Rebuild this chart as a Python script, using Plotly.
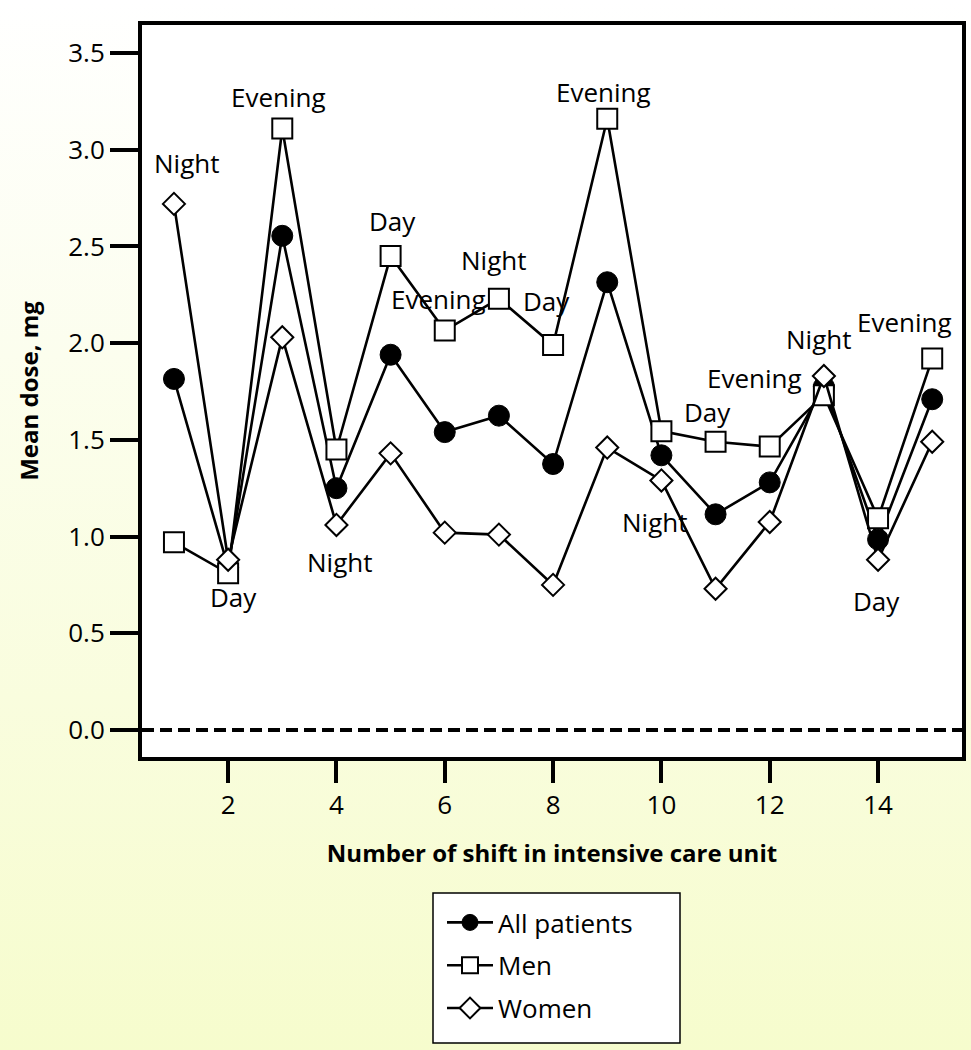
import base64
import plotly.graph_objects as go

# ---------------- data ----------------
shifts = list(range(1, 16))
all_patients = [1.815, 0.84, 2.555, 1.25, 1.94, 1.54, 1.625, 1.375, 2.315, 1.42, 1.115, 1.28, 1.775, 0.985, 1.71]
men = [0.97, 0.81, 3.11, 1.45, 2.45, 2.065, 2.23, 1.99, 3.16, 1.545, 1.49, 1.465, 1.73, 1.095, 1.92]
women = [2.72, 0.88, 2.03, 1.06, 1.43, 1.02, 1.01, 0.75, 1.46, 1.29, 0.73, 1.075, 1.83, 0.88, 1.49]

shift_labels = ["Night", "Evening", "Day", "Night", "Day", "Evening", "Night", "Day",
                "Evening", "Night", "Day", "Evening", "Night", "Evening", "Day"]
label_x = [1.24, 2.93, 2.10, 4.05, 5.04, 5.88, 6.90, 7.88, 8.94, 9.88, 10.85, 11.72, 12.90, 14.48, 13.97]
label_y = [2.93, 3.275, 0.686, 0.87, 2.63, 2.23, 2.43, 2.22, 3.30, 1.077, 1.645, 1.82, 2.02, 2.11, 0.669]

y_ticks = [0.0, 0.5, 1.0, 1.5, 2.0, 2.5, 3.0, 3.5]
x_ticks = [2, 4, 6, 8, 10, 12, 14]

# ---------------- layout geometry ----------------
W, H = 971, 1050
ML, MR, MT, MB = 142, 9, 25, 293
PW, PH = W - ML - MR, H - MT - MB


def px_to_paper_x(px):
    return (px - ML) / PW


def px_to_paper_y(py):
    return (MT + PH - py) / PH


FONT = "Open Sans, Noto Sans, DejaVu Sans, sans-serif"

fig = go.Figure()

fig.add_trace(go.Scatter(
    x=shifts, y=all_patients, mode="lines+markers", name="All patients",
    legendgroup="a",
    line=dict(color="black", width=2.6),
    marker=dict(symbol="circle", size=21, color="black", line=dict(color="black", width=1)),
))
fig.add_trace(go.Scatter(
    x=shifts, y=men, mode="lines+markers", name="Men",
    legendgroup="m",
    line=dict(color="black", width=2.6),
    marker=dict(symbol="square", size=20, color="white", line=dict(color="black", width=2)),
))
fig.add_trace(go.Scatter(
    x=shifts, y=women, mode="lines+markers", name="Women",
    legendgroup="w",
    line=dict(color="black", width=2.6),
    marker=dict(symbol="diamond", size=17, color="white", line=dict(color="black", width=2)),
))

for t, xx, yy in zip(shift_labels, label_x, label_y):
    fig.add_annotation(x=xx, y=yy, text=t, showarrow=False,
                       font=dict(family=FONT, size=26, color="black"),
                       xanchor="center", yanchor="middle")

# background gradient (page) via inline SVG image
svg = ('<svg xmlns="http://www.w3.org/2000/svg" width="100" height="100" viewBox="0 0 100 100" '
       'preserveAspectRatio="none"><defs><linearGradient id="g" x1="0" y1="0" x2="0" y2="1">'
       '<stop offset="0" stop-color="#ffffff"/><stop offset="1" stop-color="#f6fccd"/>'
       '</linearGradient></defs><rect width="100" height="100" fill="url(#g)"/></svg>')
src = "data:image/svg+xml;base64," + base64.b64encode(svg.encode()).decode()
fig.add_layout_image(dict(
    source=src, xref="paper", yref="paper",
    x=-ML / PW, y=1 + MT / PH, sizex=W / PW, sizey=H / PH,
    xanchor="left", yanchor="top", sizing="stretch", layer="below",
))

# white plot area
fig.add_shape(type="rect", xref="paper", yref="paper", x0=0, x1=1, y0=0, y1=1,
              fillcolor="white", line=dict(width=0), layer="below")
# dashed zero line
fig.add_shape(type="line", xref="paper", yref="y", x0=0, x1=1, y0=0, y1=0,
              line=dict(color="black", width=4, dash="12px,6px"), layer="below")
# legend box
fig.add_shape(type="rect", xref="paper", yref="paper",
              x0=px_to_paper_x(433), x1=px_to_paper_x(680),
              y0=px_to_paper_y(1043), y1=px_to_paper_y(893),
              fillcolor="white", line=dict(color="black", width=1.5), layer="below")

fig.update_layout(
    width=W, height=H, autosize=False,
    margin=dict(l=ML, r=MR, t=MT, b=MB),
    paper_bgcolor="#fbfde6",
    plot_bgcolor="rgba(0,0,0,0)",
    font=dict(family=FONT, color="black"),
    showlegend=True,
    legend=dict(
        x=px_to_paper_x(442), y=px_to_paper_y(899),
        xanchor="left", yanchor="top",
        bgcolor="rgba(0,0,0,0)", borderwidth=0,
        font=dict(family=FONT, size=26, color="black"),
        traceorder="grouped", tracegroupgap=6,
        itemwidth=46,
    ),
)

fig.update_xaxes(
    range=[0.41, 15.55], tickvals=x_ticks, ticktext=[str(v) for v in x_ticks],
    showgrid=False, zeroline=False, automargin=False,
    showline=True, linecolor="black", linewidth=4, mirror=True,
    ticks="outside", ticklen=22, tickwidth=4, tickcolor="black",
    tickfont=dict(family=FONT, size=26, color="black"),
    title=dict(text="Number of shift in intensive care unit",
               font=dict(family=FONT, size=24, color="black", weight="bold"), standoff=25),
)
fig.update_yaxes(
    range=[-0.14, 3.645], tickvals=y_ticks, ticktext=[f"{v:.1f}" for v in y_ticks],
    showgrid=False, zeroline=False, automargin=False,
    showline=True, linecolor="black", linewidth=4, mirror=True,
    ticks="outside", ticklen=28, tickwidth=4, tickcolor="black",
    tickfont=dict(family=FONT, size=26, color="black"),
    title=dict(text="Mean dose, mg",
               font=dict(family=FONT, size=24, color="black", weight="bold"), standoff=24),
)

fig.write_html("out.html", config={"displayModeBar": False},
               post_script="document.body.style.margin='0';")
